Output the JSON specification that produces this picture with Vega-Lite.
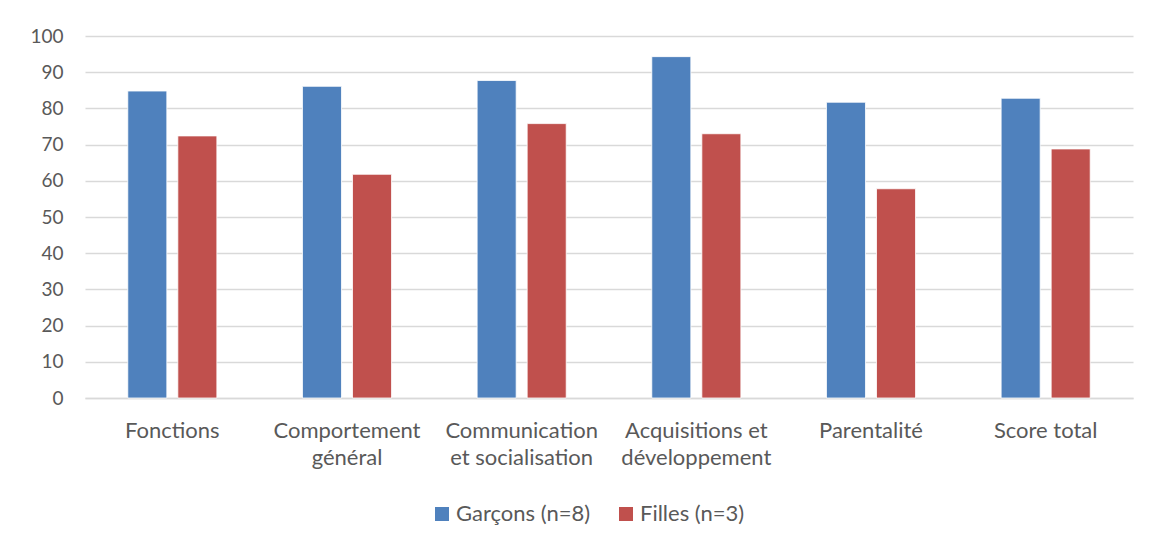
{
  "$schema": "https://vega.github.io/schema/vega-lite/v6.json",
  "width": 1048,
  "height": 362,
  "autosize": {"type": "none"},
  "padding": {"left": 85, "top": 36, "right": 21, "bottom": 146},
  "background": "white",
  "data": {
    "values": [
      {"categorie": "Fonctions", "groupe": "Garçons (n=8)", "score": 84.8},
      {"categorie": "Fonctions", "groupe": "Filles (n=3)", "score": 72.4},
      {"categorie": "Comportement général", "groupe": "Garçons (n=8)", "score": 86.1},
      {"categorie": "Comportement général", "groupe": "Filles (n=3)", "score": 61.8},
      {"categorie": "Communication et socialisation", "groupe": "Garçons (n=8)", "score": 87.7},
      {"categorie": "Communication et socialisation", "groupe": "Filles (n=3)", "score": 75.8},
      {"categorie": "Acquisitions et développement", "groupe": "Garçons (n=8)", "score": 94.3},
      {"categorie": "Acquisitions et développement", "groupe": "Filles (n=3)", "score": 73.0},
      {"categorie": "Parentalité", "groupe": "Garçons (n=8)", "score": 81.7},
      {"categorie": "Parentalité", "groupe": "Filles (n=3)", "score": 57.8},
      {"categorie": "Score total", "groupe": "Garçons (n=8)", "score": 82.8},
      {"categorie": "Score total", "groupe": "Filles (n=3)", "score": 68.8}
    ]
  },
  "mark": {"type": "bar", "stroke": "white", "strokeWidth": 0.8},
  "encoding": {
    "x": {
      "field": "categorie",
      "type": "nominal",
      "sort": null,
      "title": null,
      "scale": {"paddingInner": 0.49, "paddingOuter": 0.245},
      "axis": {
        "labelAngle": 0,
        "labelFont": "Lato",
        "labelFontSize": 22,
        "labelColor": "#595959",
        "labelPadding": 39,
        "labelLineHeight": 27,
        "labelBaseline": "alphabetic",
        "ticks": false,
        "domainColor": "#D9D9D9",
        "domainWidth": 1.3,
        "labelExpr": "datum.label == 'Comportement général' ? ['Comportement', 'général'] : datum.label == 'Communication et socialisation' ? ['Communication', 'et socialisation'] : datum.label == 'Acquisitions et développement' ? ['Acquisitions et', 'développement'] : datum.label"
      }
    },
    "xOffset": {
      "field": "groupe",
      "type": "nominal",
      "sort": ["Garçons (n=8)", "Filles (n=3)"],
      "scale": {"paddingInner": 0.22, "paddingOuter": 0}
    },
    "y": {
      "field": "score",
      "type": "quantitative",
      "title": null,
      "scale": {"domain": [0, 100], "nice": false},
      "axis": {
        "values": [0, 10, 20, 30, 40, 50, 60, 70, 80, 90, 100],
        "labelFont": "Lato",
        "labelFontSize": 19,
        "labelColor": "#595959",
        "labelPadding": 22,
        "ticks": false,
        "domain": false,
        "gridColor": "#D9D9D9",
        "gridWidth": 1.3
      }
    },
    "color": {
      "field": "groupe",
      "type": "nominal",
      "sort": ["Garçons (n=8)", "Filles (n=3)"],
      "scale": {"domain": ["Garçons (n=8)", "Filles (n=3)"], "range": ["#4F81BD", "#C0504D"]},
      "legend": {
        "title": null,
        "orient": "none",
        "direction": "horizontal",
        "legendX": 346,
        "legendY": 467,
        "symbolType": "square",
        "symbolSize": 196,
        "symbolStrokeWidth": 0,
        "labelFont": "Lato",
        "labelFontSize": 22,
        "labelColor": "#595959",
        "labelOffset": 3,
        "columnPadding": 24
      }
    }
  },
  "config": {"view": {"stroke": null}}
}
